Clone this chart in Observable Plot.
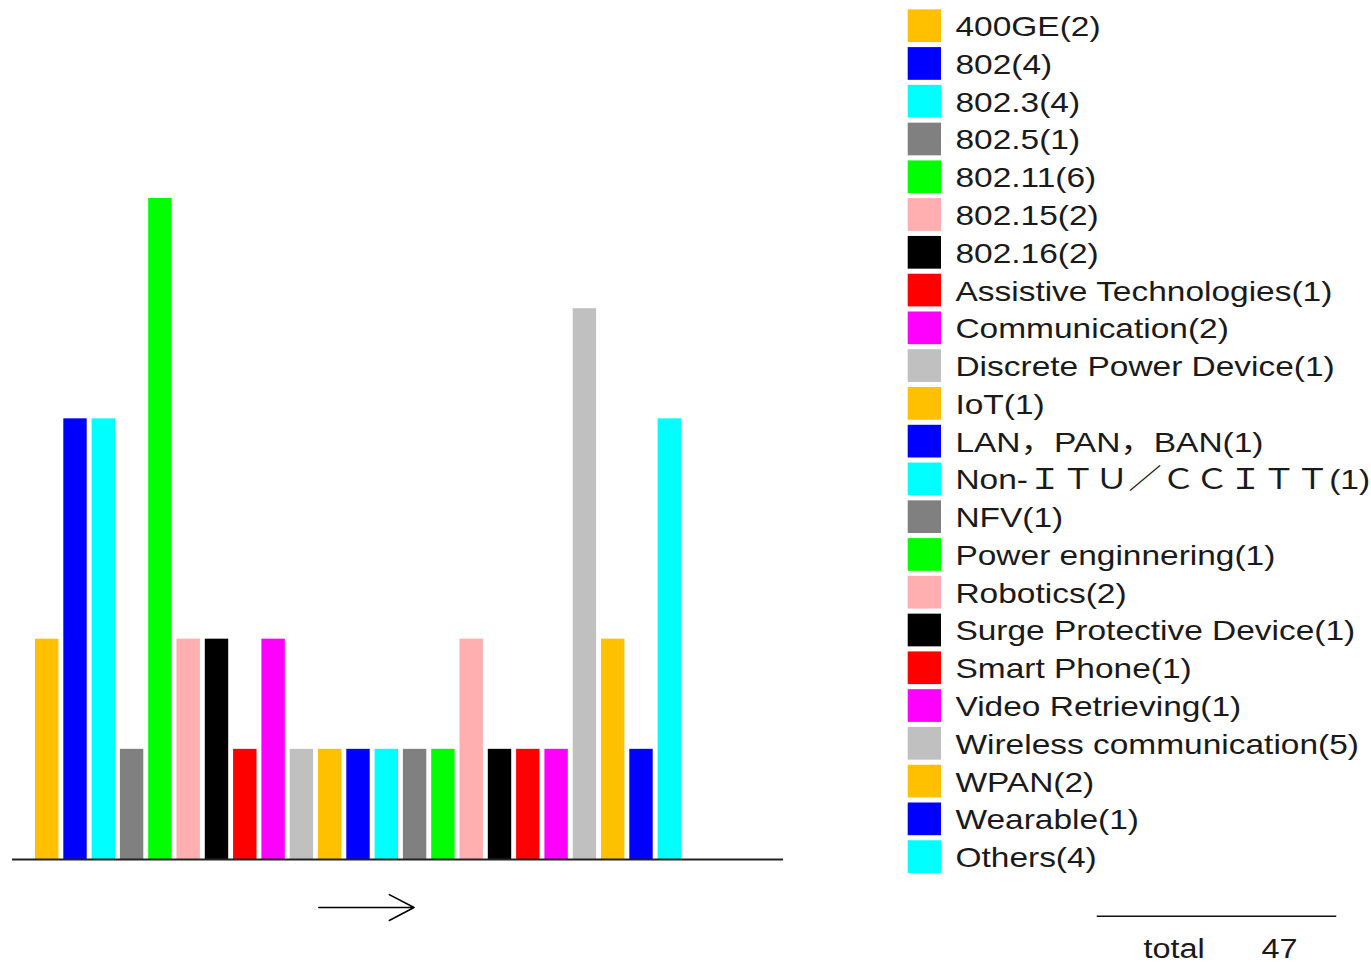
<!DOCTYPE html>
<html>
<head>
<meta charset="utf-8">
<script src="https://cdn.jsdelivr.net/npm/d3@7"></script>
<script src="https://cdn.jsdelivr.net/npm/@observablehq/plot@0.6"></script>
<style>
  body { margin: 0; background: #fff; }
  #wrap { position: relative; width: 1371px; height: 964px; overflow: hidden; background: #fff; }
  #chart { position: absolute; left: 0; top: 0; }
  #legend { position: absolute; left: 900px; top: 0; }
</style>
</head>
<body>
<div id="wrap"><div id="chart"></div><div id="legend"></div></div>
<script>
const categories = ["400GE", "802", "802.3", "802.5", "802.11", "802.15", "802.16",
  "Assistive Technologies", "Communication", "Discrete Power Device", "IoT",
  "LAN，PAN，BAN", "Non-ＩＴＵ／ＣＣＩＴＴ", "NFV", "Power enginnering", "Robotics",
  "Surge Protective Device", "Smart Phone", "Video Retrieving", "Wireless communication",
  "WPAN", "Wearable", "Others"];
const counts = [2, 4, 4, 1, 6, 2, 2, 1, 2, 1, 1, 1, 1, 1, 1, 2, 1, 1, 1, 5, 2, 1, 4];
const colors = ["#FFC000", "#0000FF", "#00FFFF", "#808080", "#00FF00", "#FFAFAF", "#000000",
  "#FF0000", "#FF00FF", "#C0C0C0", "#FFC000", "#0000FF", "#00FFFF", "#808080", "#00FF00",
  "#FFAFAF", "#000000", "#FF0000", "#FF00FF", "#C0C0C0", "#FFC000", "#0000FF", "#00FFFF"];
const arrowFrom = "IoT";
const arrowTo = "NFV";
const totalLabel = "total";

const rows = categories.map((c, i) => ({cat: c, n: counts[i], label: `${c}(${counts[i]})`}));
const total = d3.sum(counts);
const font = "'Liberation Sans', Arial, 'Noto Sans CJK JP', sans-serif";

const chart = Plot.plot({
  width: 900, height: 964,
  marginLeft: 12, marginRight: 117, marginTop: 0, marginBottom: 0,
  x: {type: "band", domain: categories, range: [32.55, 683.45], paddingInner: 0.173, paddingOuter: 0.0865, round: false, axis: null},
  y: {domain: [0, 6], range: [859, 198], axis: null},
  color: {domain: categories, range: colors},
  marks: [
    Plot.barY(rows, {x: "cat", y: "n", fill: "cat", inset: 0}),
    Plot.ruleY([0], {stroke: "#222", strokeWidth: 2}),
    Plot.arrow([{from: arrowFrom, to: arrowTo}], {
      x1: "from", x2: "to", y1: () => -0.436, y2: () => -0.436,
      insetStart: -11.4, insetEnd: 1, headLength: 28, headAngle: 55,
      stroke: "#000", strokeWidth: 1.5
    })
  ]
});
document.getElementById("chart").append(chart);

const legend = Plot.plot({
  width: 471, height: 964,
  marginLeft: 0, marginRight: 0, marginTop: 0, marginBottom: 48.3,
  x: {type: "band", domain: ["swatch"], range: [7.7, 41], padding: 0, round: false, axis: null},
  y: {type: "band", domain: categories, range: [6.8, 875.5], paddingInner: 0.134, paddingOuter: 0.067, round: false, axis: null},
  color: {domain: categories, range: colors},
  marks: [
    Plot.cell(rows, {x: () => "swatch", y: "cat", fill: "cat", inset: 0}),
    Plot.text(rows, {x: () => "swatch", y: "cat", text: "label", textAnchor: "start", lineAnchor: "middle",
      dx: 30.6, dy: 1, fontSize: 28, fill: "#1a1a1a", fontFamily: font}),
    Plot.frame({anchor: "bottom", insetLeft: 197, insetRight: 36, stroke: "#111", strokeWidth: 1.5}),
    Plot.text([totalLabel], {frameAnchor: "bottom-left", text: d => d, textAnchor: "start", lineAnchor: "middle",
      dx: 243, dy: 33, fontSize: 27, fill: "#1a1a1a", fontFamily: font}),
    Plot.text([total], {frameAnchor: "bottom-left", text: d => String(d), textAnchor: "start", lineAnchor: "middle",
      dx: 361, dy: 33, fontSize: 27, fill: "#1a1a1a", fontFamily: font})
  ]
});
document.getElementById("legend").append(legend);

// horizontally stretch legend text to match the wide bitmap-style font of the reference
legend.querySelectorAll("text").forEach(t => {
  const w = t.getComputedTextLength();
  const s = t.textContent;
  const isTotal = (s === totalLabel || s === String(total));
  const f = isTotal ? 1.2 : 1.195;
  if (w > 0) {
    t.setAttribute("textLength", (w * f).toFixed(1));
    t.setAttribute("lengthAdjust", "spacingAndGlyphs");
  }
});
</script>
</body>
</html>
